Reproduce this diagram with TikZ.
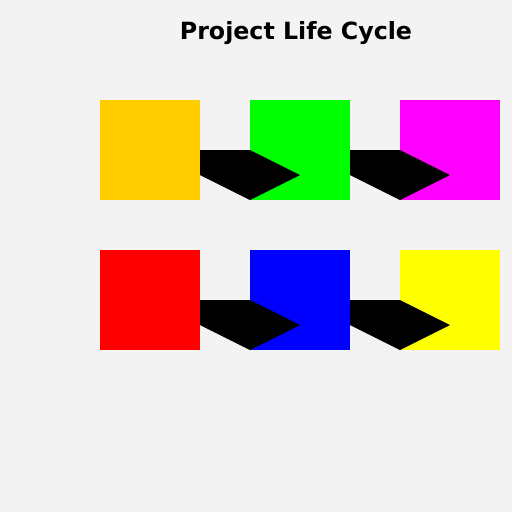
\documentclass[tikz,border=0pt]{standalone}
\usepackage{fontspec}
\setmainfont{DejaVu Sans}
\usetikzlibrary{positioning,calc}
\definecolor{canvas}{HTML}{F3F3F3}
\definecolor{gold}{HTML}{FFCC00}
\definecolor{lime}{HTML}{00FF00}
\definecolor{fuchsia}{HTML}{FF00FF}
\definecolor{scarlet}{HTML}{FF0000}
\definecolor{royal}{HTML}{0000FF}
\definecolor{lemon}{HTML}{FFFF00}

\begin{document}
\begin{tikzpicture}[x=1pt,y=-1pt,
    phase/.style={minimum size=100pt, inner sep=0pt, outer sep=0pt},
    flow/.style={fill=black},
    node distance=50pt]
    \fill[canvas] (0,0) rectangle (512,512);
    \node[font=\bfseries\fontsize{23.7}{28}\selectfont] (title) at (296,33) {Project Life Cycle};
    % first row
    \node[phase, fill=gold, anchor=north west] (init) at (100,100) {};
    \node[phase, fill=lime, right=of init] (plan) {};
    \node[phase, fill=fuchsia, right=of plan] (exec) {};
    % second row
    \node[phase, fill=scarlet, below=of init] (monitor) {};
    \node[phase, fill=royal, right=of monitor] (control) {};
    \node[phase, fill=lemon, right=of control] (close) {};
    % arrows
    \foreach \a/\b in {init/plan, plan/exec, monitor/control, control/close}
        \fill[flow] (\a.east) -- (\b.west) -- ($(\b.center)+(0,25)$)
            -- (\b.south west) -- ($(\a.east)+(0,25)$) -- cycle;
\end{tikzpicture}
\end{document}
